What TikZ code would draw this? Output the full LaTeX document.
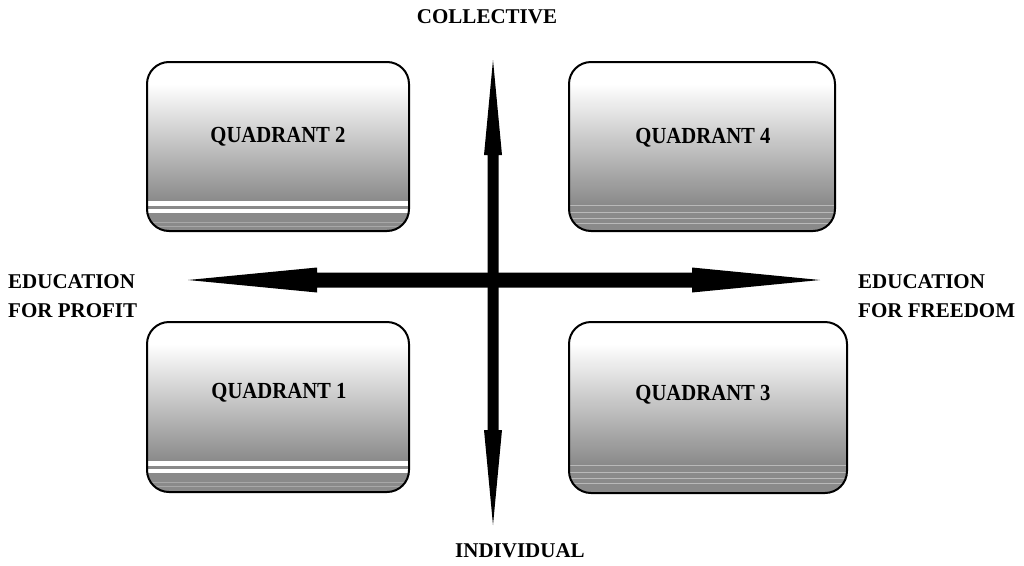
\documentclass[tikz,border=0pt]{standalone}
\usepackage{fontspec}
\usepackage{graphicx}
\setmainfont{Liberation Serif}
\usetikzlibrary{calc}
\definecolor{qdark}{HTML}{8A8A8A}
\definecolor{qline}{HTML}{A8A8A8}
\begin{document}
\begin{tikzpicture}[x=1pt,y=-1pt,
  qbase/.style={draw=black, line width=2pt, rounded corners=22pt, inner sep=0pt},
  qtext/.style={inner sep=0pt, font=\fontsize{23}{23}\selectfont\bfseries},
  axlabel/.style={inner sep=0pt, font=\fontsize{21}{29}\selectfont\bfseries, align=left},
  axis/.style={fill=black, draw=none, sharp corners},
  stripeA/.style={qbase, path picture={
     \begin{scope}[sharp corners]
     \fill[white] (path picture bounding box.north west) rectangle (path picture bounding box.south east);
     \shade[top color=white, bottom color=qdark]
        ($(path picture bounding box.north west)+(0,22)$) rectangle ($(path picture bounding box.north east)+(0,139)$);
     \fill[qdark] ($(path picture bounding box.north west)+(0,139)$) rectangle (path picture bounding box.south east);
     \fill[white] ($(path picture bounding box.north west)+(0,139)$) rectangle ($(path picture bounding box.north east)+(0,144)$);
     \fill[white] ($(path picture bounding box.north west)+(0,146.5)$) rectangle ($(path picture bounding box.north east)+(0,151)$);
     \draw[qline, line width=0.8pt] ($(path picture bounding box.north west)+(0,160)$) -- ($(path picture bounding box.north east)+(0,160)$);
     \draw[qline, line width=0.8pt] ($(path picture bounding box.north west)+(0,164)$) -- ($(path picture bounding box.north east)+(0,164)$);
     \end{scope}
  }},
  stripeB/.style={qbase, path picture={
     \begin{scope}[sharp corners]
     \fill[white] (path picture bounding box.north west) rectangle (path picture bounding box.south east);
     \shade[top color=white, bottom color=qdark]
        ($(path picture bounding box.north west)+(0,22)$) rectangle ($(path picture bounding box.north east)+(0,142)$);
     \fill[qdark] ($(path picture bounding box.north west)+(0,142)$) rectangle (path picture bounding box.south east);
     \foreach \yy in {143,150,156,161}{
       \draw[qline!80!white, line width=0.9pt] ($(path picture bounding box.north west)+(0,\yy)$) -- ($(path picture bounding box.north east)+(0,\yy)$);}
     \end{scope}
  }}
]
\useasboundingbox (0,0) rectangle (1024,565);

% boxes
\node[stripeA, minimum width=262pt, minimum height=169pt] (q2) at (278,146.5) {};
\node[stripeB, minimum width=266pt, minimum height=169pt] (q4) at (702,146.5) {};
\node[stripeA, minimum width=262pt, minimum height=170pt] (q1) at (278,407) {};
\node[stripeB, minimum width=278pt, minimum height=171pt] (q3) at (708,407.5) {};

\node[qtext] (t2) at (278,137) {\scalebox{0.9}[1]{QUADRANT 2}};
\node[qtext] (t4) at (703,138) {\scalebox{0.9}[1]{QUADRANT 4}};
\node[qtext] (t1) at (279,393) {\scalebox{0.9}[1]{QUADRANT 1}};
\node[qtext] (t3) at (703,395) {\scalebox{0.9}[1]{QUADRANT 3}};

% axes
\coordinate (top) at (493,60);
\coordinate (bot) at (493,525);
\coordinate (lft) at (188,280);
\coordinate (rgt) at (820,280);
\fill[axis] (lft) -- ($(lft)+(129,-12.5)$) -- ($(lft)+(129,-7.5)$) -- ($(rgt)+(-128,-7.5)$)
   -- ($(rgt)+(-128,-12.5)$) -- (rgt) -- ($(rgt)+(-128,12.5)$) -- ($(rgt)+(-128,7.5)$)
   -- ($(lft)+(129,7.5)$) -- ($(lft)+(129,12.5)$) -- cycle;
\fill[axis] (top) -- ($(top)+(9,95)$) -- ($(top)+(5.5,95)$) -- ($(bot)+(5.5,-95)$)
   -- ($(bot)+(9,-95)$) -- (bot) -- ($(bot)+(-9,-95)$) -- ($(bot)+(-5.5,-95)$)
   -- ($(top)+(-5.5,95)$) -- ($(top)+(-9,95)$) -- cycle;

% labels
\node[axlabel] (coll) at (487,17) {COLLECTIVE};
\node[axlabel] (indiv) at (520,551) {INDIVIDUAL};
\node[axlabel, anchor=west] (profit) at (8,296) {EDUCATION\\FOR PROFIT};
\node[axlabel, anchor=west] (freedom) at (858,296) {EDUCATION\\FOR FREEDOM};
\end{tikzpicture}
\end{document}
